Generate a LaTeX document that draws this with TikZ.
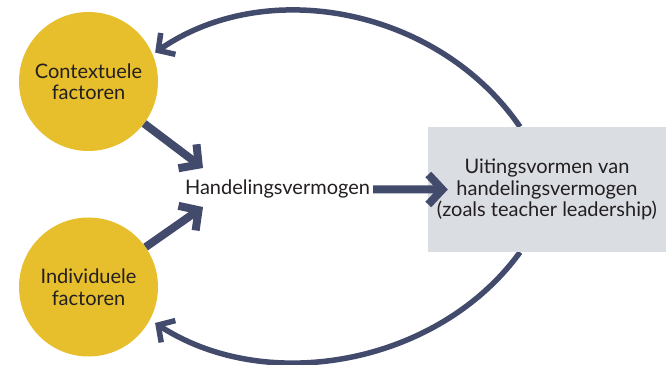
\documentclass[tikz,border=0pt]{standalone}
\usepackage{fontspec}
\setmainfont{Lato}
\usetikzlibrary{positioning,calc,arrows.meta,backgrounds}
\definecolor{factorFill}{RGB}{231,190,43}
\definecolor{arrowDark}{RGB}{66,75,107}
\definecolor{boxFill}{RGB}{218,221,226}
\definecolor{textDark}{RGB}{35,31,32}

\begin{document}
\begin{tikzpicture}[
  x=1pt,y=1pt,
  font=\fontsize{20}{21.5}\selectfont,
  text=textDark,
  factor/.style={circle,fill=factorFill,minimum size=139pt,inner sep=0pt,
                 align=center},
  outcome/.style={fill=boxFill,minimum width=238pt,minimum height=125pt,
                  inner sep=0pt,align=center},
  capText/.style={inner sep=3pt},
  tr/.style={draw=arrowDark,line width=8pt,
             -{Straight Barb[length=14pt,width=30pt]}},
  fb/.style={draw=arrowDark,line width=5.5pt,
             -{Straight Barb[length=12pt,width=26pt]}}
]
\useasboundingbox (0,0) rectangle (666,364);

% ==========  Factors (left column)  ==========
\node[factor] (ctx) at (88.5,282.5) {Contextuele\\factoren};
\node[factor] (ind) at (88.5,77) {Individuele\\factoren};

% ==========  Capacity and its outcomes  ==========
\node[capText,anchor=base] (hv) at (277.5,169) {Handelingsvermogen};

\node[outcome] (uit) at (547,174.5)
  {Uitingsvormen van\\handelingsvermogen\\(zoals teacher leadership)};

% arrow heads stop just short of the text, above and below it
\coordinate (inTop) at (203,196);
\coordinate (inBot) at (203,157);

% ==========  Straight arrows  ==========
\draw[tr] (ctx) -- (inTop);
\draw[tr] (ind) -- (inBot);
\draw[tr] (hv.east) -- ([xshift=20pt]uit.west);

% ==========  Feedback loops (behind the grey box)  ==========
\begin{scope}[on background layer]
  \draw[fb,shorten >=3pt] ([xshift=-27pt]uit.north)
    .. controls (439,355) and (268,389) .. (ctx.23);
  \draw[fb,shorten >=6pt] ([xshift=-27pt]uit.south)
    .. controls (439,0) and (268,-32) .. (ind.-28);
\end{scope}

\end{tikzpicture}
\end{document}
